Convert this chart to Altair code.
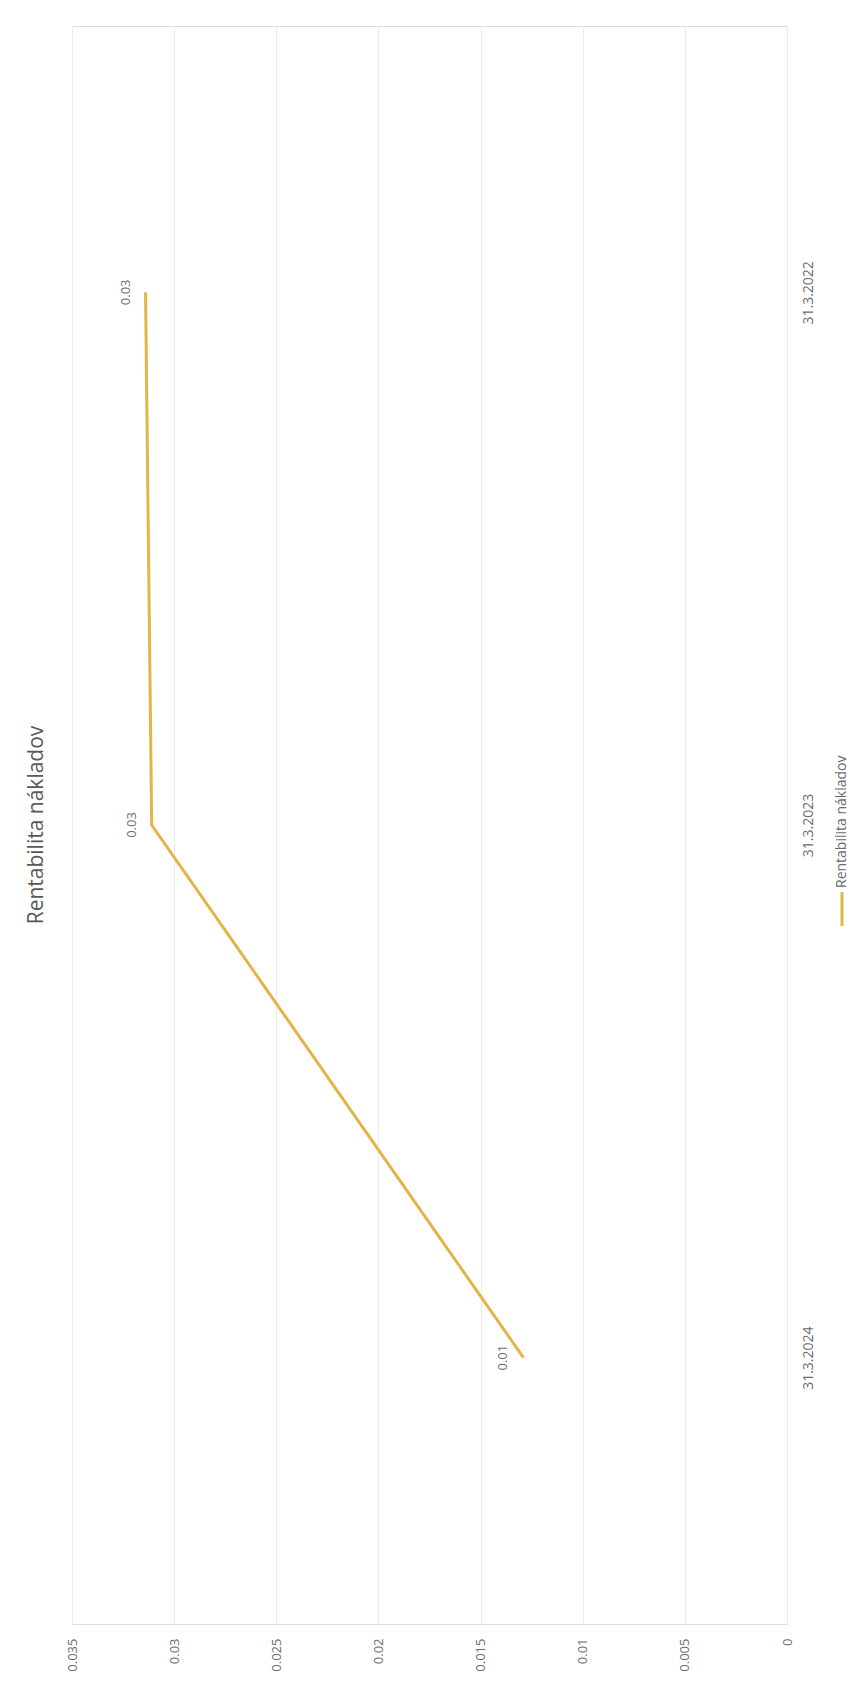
import altair as alt
import pandas as pd

dates = ["31.3.2024", "31.3.2023", "31.3.2022"]
values = [0.0129, 0.0311, 0.0314]
labels = ["0.01", "0.03", "0.03"]
order = ["31.3.2022", "31.3.2023", "31.3.2024"]
ticks = [0, 0.005, 0.01, 0.015, 0.02, 0.025, 0.03, 0.035]
series = "Rentabilita nákladov"

df = pd.DataFrame({"date": dates, "value": values, "label": labels})

FONT = "Open Sans"
COLOR = "#E3B448"
TXT = "#6b6b6b"
W, H = 715, 1598

x = alt.X("value:Q",
          scale=alt.Scale(domain=[0, 0.035], reverse=True, nice=False, zero=True),
          axis=alt.Axis(values=ticks, format="~g", labelAngle=270, orient="bottom",
                        domain=False, ticks=False, grid=True, gridColor="#ebebeb",
                        gridWidth=1, labelPadding=14, labelFontSize=13,
                        labelColor=TXT, labelFont=FONT, title=None))
y = alt.Y("date:N", sort=order,
          scale=alt.Scale(type="point", padding=0.5),
          axis=alt.Axis(orient="right", labelAngle=270, labelAlign="center",
                        labelBaseline="middle", labelPadding=21, domain=False,
                        ticks=False, grid=False, labelFontSize=14,
                        labelColor=TXT, labelFont=FONT, title=None))

base = alt.Chart(df)
line = base.mark_line(color=COLOR, strokeWidth=3).encode(x=x, y=y)
text = base.mark_text(angle=270, align="center", baseline="middle", dy=-20,
                      fontSize=13, color=TXT, font=FONT).encode(
    x=alt.X("value:Q"), y=alt.Y("date:N", sort=order), text="label:N")

leg = pd.DataFrame({"name": [series]})
leg_rule = alt.Chart(leg).mark_rule(color=COLOR, strokeWidth=3).encode(
    x=alt.value(770), y=alt.value(900), y2=alt.value(866))
leg_text = alt.Chart(leg).mark_text(angle=270, align="left", baseline="middle",
                                    fontSize=14, color=TXT, font=FONT).encode(
    x=alt.value(770), y=alt.value(862), text="name:N")

chart = alt.layer(line, text, leg_rule, leg_text).properties(
    width=W, height=H,
    title=alt.TitleParams(series, orient="left", anchor="middle", fontSize=21,
                          font=FONT, fontWeight="normal", color="#595959", offset=19),
    autosize=alt.AutoSizeParams(type="none"),
    padding={"left": 72, "top": 26, "right": 75, "bottom": 58},
).configure_view(stroke=None).configure(background="white")

chart.save("out.html", embed_options={"renderer": "svg", "actions": False})
